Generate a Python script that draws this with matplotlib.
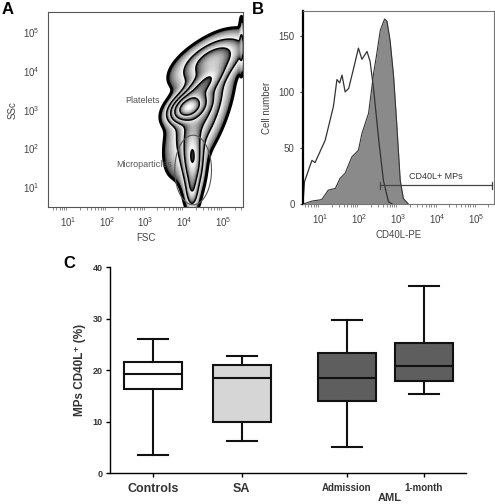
import numpy as np
import matplotlib.pyplot as plt
from matplotlib.ticker import LogLocator, NullFormatter, NullLocator

plt.rcParams['font.family'] = ['Liberation Sans', 'DejaVu Sans']

# -------------------------------------------------------
# Panel A: event populations (log10 units)
# -------------------------------------------------------
pop_fsc = [4.10, 4.45, 4.75, 4.22, 4.20, 4.40, 5.48]
pop_ssc = [3.05, 3.60, 4.30, 1.70, 0.90, 2.95, 4.70]
pop_sd_fsc = [0.25, 0.35, 0.50, 0.15, 0.10, 0.40, 0.03]
pop_sd_ssc = [0.20, 0.30, 0.34, 0.45, 0.30, 0.75, 0.45]
pop_rho = [0.40, 0.80, 0.59, 0.0, 0.0, 0.60, 0.0]
pop_weight = [1.0, 0.30, 0.30, 0.40, 0.15, 0.30, 0.06]

gate_mp = (4.23, 1.44, 0.95, 1.80)  # centre x, centre y, width, height (log10)

# -------------------------------------------------------
# Panel B: CD40L-PE histograms (log10 intensity, counts)
# -------------------------------------------------------
open_logx = [0.56, 0.60, 0.79, 0.87, 1.13, 1.34, 1.43, 1.50, 1.56, 1.64, 1.73,
             1.85, 1.98, 2.07, 2.20, 2.28, 2.37, 2.50, 2.62, 2.75, 2.85]
open_count = [0, 20, 39, 37, 57, 87, 111, 108, 115, 100, 103,
              120, 139, 129, 136, 127, 102, 57, 21, 2, 0]
filled_logx = [0.56, 0.79, 1.04, 1.21, 1.39, 1.51, 1.64, 1.81, 1.98, 2.07, 2.24,
               2.37, 2.45, 2.54, 2.65, 2.71, 2.79, 2.88, 2.96, 3.05, 3.13, 3.26]
filled_count = [0, 2.7, 4, 12.5, 14, 23, 27.5, 42, 48, 63, 81,
                117, 134, 155, 165, 163, 146, 114, 72, 21, 5, 0]
gate_logx = [2.54, 5.40]
gate_count = 16.7

# -------------------------------------------------------
# Panel C: box plot summary (% CD40L+ MPs)
# -------------------------------------------------------
groups = ["Controls", "SA", "Admission", "1-month"]
whislo = [3.5, 6.2, 5.0, 15.3]
q1 = [16.3, 10.0, 13.9, 17.9]
med = [19.2, 18.4, 18.4, 20.8]
q3 = [21.5, 21.0, 23.3, 25.3]
whishi = [26.0, 22.7, 29.8, 36.4]
box_colors = ["white", "#d6d6d6", "#5e5e5e", "#5e5e5e"]

fig = plt.figure(figsize=(4.95, 5.04), dpi=100)

txt = "#444444"

# ---------------- Panel A ----------------
axA = fig.add_axes([0.097, 0.589, 0.394, 0.387])
gx = np.linspace(0.48, 5.52, 500)
GX, GY = np.meshgrid(gx, gx)
dens = np.zeros_like(GX)
for cx, cy, sx, sy, r, w in zip(pop_fsc, pop_ssc, pop_sd_fsc, pop_sd_ssc, pop_rho, pop_weight):
    dx = (GX - cx) / sx
    dy = (GY - cy) / sy
    q = (dx ** 2 - 2 * r * dx * dy + dy ** 2) / (1 - r ** 2)
    dens += w * np.exp(-q / 2)
logd = np.log10(dens / dens.max() + 1e-12)
floor = -1.8
zn = (logd - floor) / (-floor)
# zebra bands: wide outer band, tighter inner ones
zlev = [0.0, 0.40, 0.60, 0.76, 0.90, 1.0]
band = np.interp(zn, zlev, np.arange(len(zlev)))
shade = np.ma.masked_where(zn < 0, (band % 1) ** 0.6)
axA.pcolormesh(10 ** gx, 10 ** gx, shade, cmap="gray", vmin=0, vmax=1,
               shading="auto", rasterized=True)
axA.contour(10 ** GX, 10 ** GY, zn, levels=[0.0], colors="k", linewidths=2.2)
axA.contour(10 ** GX, 10 ** GY, zn, levels=zlev[1:-1], colors="k", linewidths=1.0)

cx, cy, w, h = gate_mp
t = np.linspace(0, 2 * np.pi, 200)
axA.plot(10 ** (cx + w / 2 * np.cos(t)), 10 ** (cy + h / 2 * np.sin(t)), color="#555555", lw=0.8)

axA.set_xscale("log")
axA.set_yscale("log")
axA.set_xlim(10 ** 0.48, 10 ** 5.52)
axA.set_ylim(10 ** 0.48, 10 ** 5.52)
axA.xaxis.set_major_locator(LogLocator(base=10, numticks=10))
axA.yaxis.set_major_locator(LogLocator(base=10, numticks=10))
axA.yaxis.set_minor_locator(NullLocator())
axA.xaxis.set_minor_formatter(NullFormatter())
axA.tick_params(axis="x", which="major", length=0, pad=6, labelsize=7, colors=txt)
axA.tick_params(axis="x", which="minor", length=2, color="#777777")
axA.tick_params(axis="y", which="major", length=0, pad=6, labelsize=7, colors=txt)
for s in axA.spines.values():
    s.set_color("#555555")
    s.set_linewidth(0.8)
axA.text(10 ** 3.38, 10 ** 3.24, "Platelets", ha="right", va="center", fontsize=6.5, color="#555555")
axA.text(10 ** 3.69, 10 ** 1.59, "Microparticles", ha="right", va="center", fontsize=6.5, color="#555555")
axA.set_xlabel("FSC", fontsize=7, color=txt, labelpad=3)
axA.set_ylabel("SSc", fontsize=7, color=txt, labelpad=4)

# ---------------- Panel B ----------------
axB = fig.add_axes([0.612, 0.595, 0.386, 0.383])
axB.fill_between(10 ** np.array(filled_logx), filled_count, color="#8a8a8a", lw=0)
axB.plot(10 ** np.array(filled_logx), filled_count, color="#333333", lw=0.8)
axB.plot(10 ** np.array(open_logx), open_count, color="#333333", lw=0.9)
gx0, gx1 = 10 ** gate_logx[0], 10 ** gate_logx[1]
axB.plot([gx0, gx1], [gate_count, gate_count], color="#444444", lw=0.9)
axB.plot([gx0, gx0], [gate_count - 3, gate_count + 3], color="#444444", lw=0.9)
axB.plot([gx1, gx1], [gate_count - 3, gate_count + 3], color="#444444", lw=0.9)
axB.text(10 ** 3.95, gate_count + 4, "CD40L+ MPs", ha="center", va="bottom", fontsize=6.5, color="#333333")
axB.set_xscale("log")
axB.set_xlim(10 ** 0.56, 10 ** 5.45)
axB.set_ylim(0, 172)
axB.set_yticks([0, 50, 100, 150])
axB.xaxis.set_major_locator(LogLocator(base=10, numticks=10))
axB.xaxis.set_minor_formatter(NullFormatter())
axB.tick_params(axis="x", which="major", length=0, pad=6, labelsize=7, colors=txt)
axB.tick_params(axis="x", which="minor", length=2, color="#777777")
axB.tick_params(axis="y", length=2, pad=4, labelsize=7, colors=txt)
for s in axB.spines.values():
    s.set_color("#777777")
    s.set_linewidth(0.8)
axB.spines["left"].set_color("black")
axB.spines["left"].set_linewidth(1.6)
axB.set_xlabel("CD40L-PE", fontsize=7, color=txt, labelpad=3)
axB.set_ylabel("Cell number", fontsize=7, color=txt, labelpad=5)

# ---------------- Panel C ----------------
axC = fig.add_axes([0.222, 0.0615, 0.719, 0.4087])
positions = [1.0, 2.0, 3.18, 4.045]
stats = [dict(label=g, whislo=a, q1=b, med=c, q3=d, whishi=e)
         for g, a, b, c, d, e in zip(groups, whislo, q1, med, q3, whishi)]
bp = axC.bxp(stats, positions=positions, widths=0.65, capwidths=0.34,
             showfliers=False, patch_artist=True,
             boxprops=dict(lw=1.5, edgecolor="#111111"),
             medianprops=dict(lw=1.5, color="#111111"),
             whiskerprops=dict(lw=1.5, color="#111111"),
             capprops=dict(lw=1.5, color="#111111"))
for patch, col in zip(bp["boxes"], box_colors):
    patch.set_facecolor(col)
axC.set_xlim(0.517, 4.517)
axC.set_ylim(0, 40)
axC.set_yticks([0, 10, 20, 30, 40])
axC.set_xticks(positions)
axC.set_xticklabels(groups)
for lab, fs in zip(axC.get_xticklabels(), [9, 9, 7, 7]):
    lab.set_fontsize(fs)
    lab.set_fontweight("bold")
    lab.set_color("#333333")
axC.tick_params(axis="x", length=3, width=1, pad=4)
axC.tick_params(axis="y", length=3, width=1, pad=2, labelsize=6.5, labelcolor="#333333")
for lab in axC.get_yticklabels():
    lab.set_fontweight("bold")
axC.spines["top"].set_visible(False)
axC.spines["right"].set_visible(False)
axC.spines["left"].set_linewidth(1.0)
axC.spines["bottom"].set_linewidth(1.0)
axC.set_ylabel("MPs CD40L\u207a (%)", fontsize=8.5, fontweight="bold", color="#333333", labelpad=5)
fig.text(390 / 495, 1 / 504, "AML", ha="center", va="bottom", fontsize=8, fontweight="bold", color="#333333")

fig.text(2 / 495, 1 - 10 / 504, "A", ha="left", va="center", fontsize=12, fontweight="bold")
fig.text(252 / 495, 1 - 10 / 504, "B", ha="left", va="center", fontsize=12, fontweight="bold")
fig.text(63 / 495, 1 - 264 / 504, "C", ha="left", va="center", fontsize=12, fontweight="bold")

fig.savefig("out.png", dpi=100)
